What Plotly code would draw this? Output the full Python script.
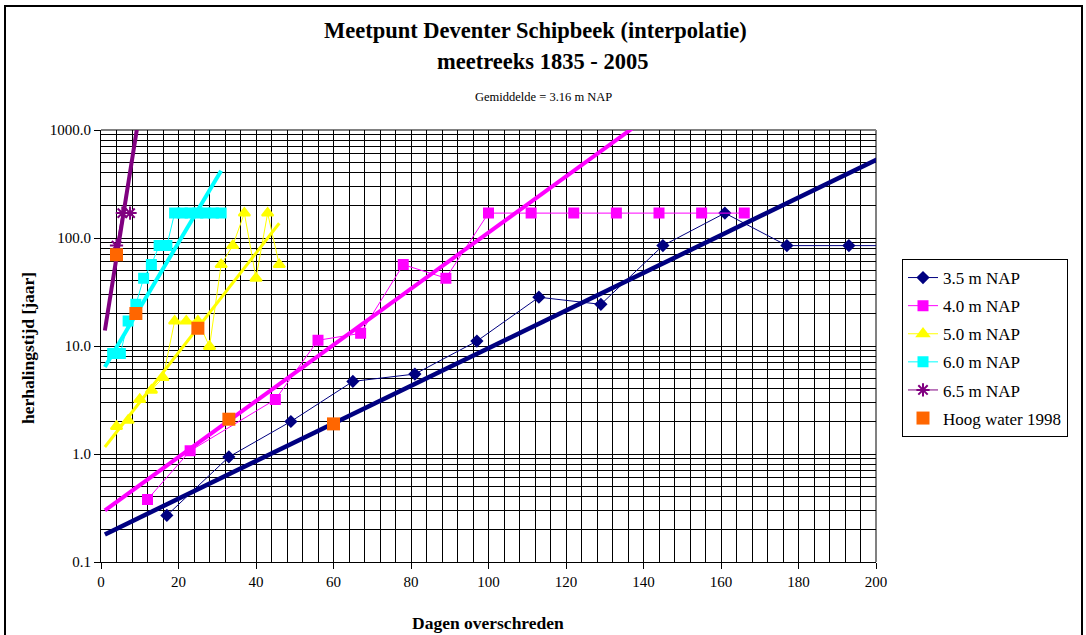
import plotly.graph_objects as go

# ---- data ----
days_35 = [17, 33, 49, 65, 81, 97, 113, 129, 145, 161, 177, 193, 209]
jaar_35 = [0.27, 0.94, 2.0, 4.7, 5.5, 11.1, 28.3, 24.3, 85, 170, 85, 85, 85]

days_40 = [12, 23, 45, 56, 67, 78, 89, 100, 111, 122, 133, 144, 155, 166]
jaar_40 = [0.38, 1.07, 3.2, 11.3, 13.1, 56.7, 42.5, 170, 170, 170, 170, 170, 170, 170]

days_50 = [4, 7, 10, 13, 16, 19, 22, 25, 28, 31, 34, 37, 40, 43, 46]
jaar_50 = [1.8, 2.05, 3.2, 3.9, 5.1, 17, 17, 17, 9.9, 56.7, 85, 170, 42.5, 170, 56.7]

days_60 = [3, 5, 7, 9, 11, 13, 15, 17, 19, 21, 23, 25, 27, 29, 31]
jaar_60 = [8.5, 8.5, 17, 24.3, 42.5, 56.7, 85, 85, 170, 170, 170, 170, 170, 170, 170]

days_65 = [4, 5.5, 7.5]
jaar_65 = [85, 170, 170]

hoog_days = [4, 9, 25, 33, 60]
hoog_jaar = [70, 20, 14.6, 2.1, 1.9]

# trendline end points (exponential trendlines, straight on log axis)
trend_35_x = [1, 201]
trend_35_y = [0.18, 550]
trend_40_x = [1, 140]
trend_40_y = [0.30, 1230]
trend_50_x = [1, 46]
trend_50_y = [1.16, 137]
trend_60_x = [1, 31]
trend_60_y = [6.4, 420]
trend_65_x = [1, 9.5]
trend_65_y = [13.9, 1150]

series_names = ["3.5 m NAP", "4.0 m NAP", "5.0 m NAP", "6.0 m NAP", "6.5 m NAP", "Hoog water 1998"]
y_tickvals = [0.1, 1, 10, 100, 1000]
y_ticktext = ["0.1", "1.0", "10.0", "100.0", "1000.0"]
x_tickvals = [0, 20, 40, 60, 80, 100, 120, 140, 160, 180, 200]

FONT = "Liberation Serif"

fig = go.Figure()

data_series = [
    (days_35, jaar_35, series_names[0], "#000080", "diamond", 8),
    (days_40, jaar_40, series_names[1], "#FF00FF", "square", 9),
    (days_50, jaar_50, series_names[2], "#FFFF00", "triangle-up", 10),
    (days_60, jaar_60, series_names[3], "#00FFFF", "square", 9),
    (days_65, jaar_65, series_names[4], "#800080", "asterisk-open", 11),
]
for i, (xs, ys, nm, col, sym, sz) in enumerate(data_series):
    fig.add_trace(go.Scatter(
        x=xs, y=ys, name=nm, mode="lines+markers",
        line=dict(color=col, width=1),
        marker=dict(color=col, symbol=sym, size=sz, line=dict(color=col, width=2)),
        legendgroup=f"g{i}",
    ))

trends = [
    (trend_35_x, trend_35_y, "#000080", 4.5),
    (trend_40_x, trend_40_y, "#FF00FF", 4),
    (trend_50_x, trend_50_y, "#FFFF00", 3),
    (trend_60_x, trend_60_y, "#00FFFF", 4),
    (trend_65_x, trend_65_y, "#800080", 4),
]
for xs, ys, col, w in trends:
    fig.add_trace(go.Scatter(x=xs, y=ys, mode="lines", line=dict(color=col, width=w),
                             showlegend=False, hoverinfo="skip"))

fig.add_trace(go.Scatter(
    x=hoog_days, y=hoog_jaar, name=series_names[5], mode="markers",
    marker=dict(color="#FF6600", symbol="square", size=13),
    legendgroup="g5",
))

L, R, T, B = 101, 876, 130, 562
W, H = 1086, 635
pw, ph = R - L, B - T

def px(xp):
    return (xp - L) / pw

def py(yp):
    return (B - yp) / ph

annotations = [
    dict(text="<b>Meetpunt Deventer Schipbeek (interpolatie)</b>", x=px(535), y=py(31),
         font=dict(size=22.5)),
    dict(text="<b>meetreeks 1835 - 2005</b>", x=px(542), y=py(62), font=dict(size=22.5)),
    dict(text="Gemiddelde = 3.16 m NAP", x=px(543), y=py(97), font=dict(size=12.5)),
    dict(text="<b>herhalingstijd [jaar]</b>", x=px(28), y=py(348), textangle=-90,
         font=dict(size=17.5)),
    dict(text="<b>Dagen overschreden</b>", x=px(488), y=py(623), font=dict(size=17.5)),
]
for a in annotations:
    a.update(xref="paper", yref="paper", showarrow=False, xanchor="center", yanchor="middle")
    a["font"].update(family=FONT, color="black")

shapes = [
    # outer chart frame
    dict(type="rect", xref="paper", yref="paper", x0=px(5), x1=px(1082), y0=py(680), y1=py(6),
         line=dict(color="black", width=2), layer="above"),
    # gray plot-area border (top / right)
    dict(type="line", xref="paper", yref="paper", x0=0, x1=1, y0=1, y1=1,
         line=dict(color="#808080", width=2), layer="between"),
    dict(type="line", xref="paper", yref="paper", x0=1, x1=1, y0=0, y1=1,
         line=dict(color="#808080", width=2), layer="between"),
]

fig.update_layout(
    width=W, height=H,
    margin=dict(l=L, r=W - R, t=T, b=H - B, autoexpand=False),
    paper_bgcolor="white", plot_bgcolor="white",
    font=dict(family=FONT, color="black", size=15),
    showlegend=True,
    legend=dict(x=px(902), y=py(259), xanchor="left", yanchor="top",
                bordercolor="black", borderwidth=1, bgcolor="white",
                font=dict(family=FONT, size=17, color="black"),
                tracegroupgap=3, traceorder="grouped", itemwidth=30),
    annotations=annotations,
    shapes=shapes,
    xaxis=dict(range=[0, 200], tickvals=x_tickvals, ticks="outside", ticklen=6,
               tickcolor="black", showline=True, linecolor="black", linewidth=1,
               showgrid=True, gridcolor="black", gridwidth=1, zeroline=False,
               minor=dict(dtick=4, showgrid=True, gridcolor="black", gridwidth=1, ticks=""),
               tickfont=dict(family=FONT, size=15)),
    yaxis=dict(type="log", range=[-1, 3], tickvals=y_tickvals, ticktext=y_ticktext,
               ticks="outside", ticklen=6, tickcolor="black", showline=True,
               linecolor="black", linewidth=1, showgrid=True, gridcolor="black",
               gridwidth=1, zeroline=False,
               minor=dict(dtick="D1", showgrid=True, gridcolor="black", gridwidth=1, ticks=""),
               tickfont=dict(family=FONT, size=15)),
)

fig.write_html("out.html", config={"displayModeBar": False},
               post_script="document.body.style.margin='0px';document.body.style.overflow='hidden';")
